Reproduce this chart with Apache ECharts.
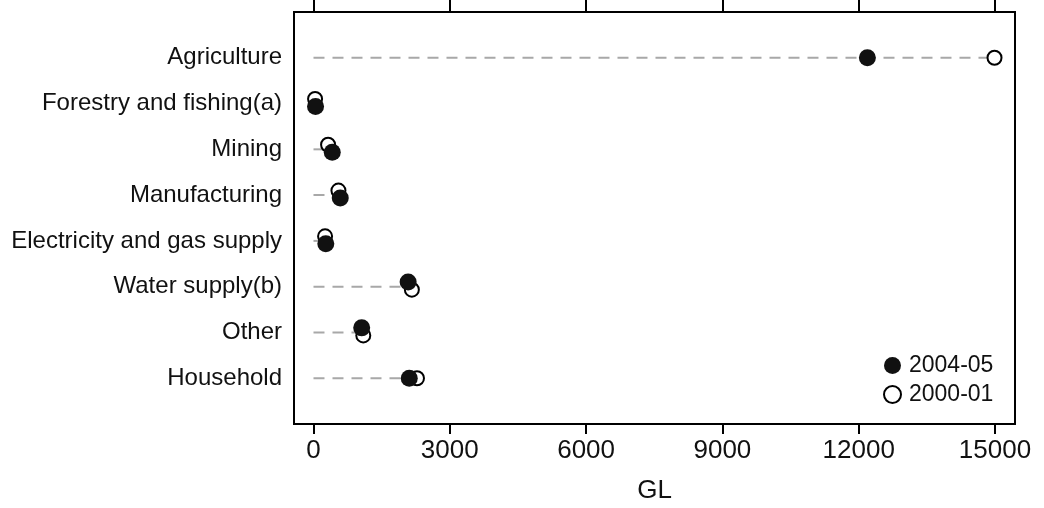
<!DOCTYPE html>
<html>
<head>
<meta charset="utf-8">
<script src="https://cdn.jsdelivr.net/npm/echarts@6/dist/echarts.min.js"></script>
<style>
html,body{margin:0;padding:0;background:#fff;}
#c{width:1044px;height:508px;}
</style>
</head>
<body>
<div id="c"></div>
<script>
var categories = ['Agriculture','Forestry and fishing(a)','Mining','Manufacturing','Electricity and gas supply','Water supply(b)','Other','Household'];
var values2004 = [12191, 45, 413, 589, 271, 2083, 1061, 2108];
var values2000 = [14989, 35, 321, 549, 255, 2165, 1096, 2278];
var xTicks = [0, 3000, 6000, 9000, 12000, 15000];

var FONT = '"Liberation Sans", Arial, sans-serif';
var chart = echarts.init(document.getElementById('c'), null, {renderer:'canvas'});

// small vertical nudge (in row units) when two dots overlap: larger value sits lower
function nudge(a, b){
  var d = Math.abs(a - b);
  if (d >= 150 || d < 1) return 0;
  return a > b ? 0.065 : -0.1;
}

var d2004 = values2004.map(function(v,i){ return [v, i + nudge(v, values2000[i])]; });
var d2000 = values2000.map(function(v,i){ return [v, i + nudge(v, values2004[i])]; });
var dLines = categories.map(function(c,i){
  return [Math.max(values2004[i], values2000[i]), i];
});

var option = {
  backgroundColor:'#fff',
  animation:false,
  grid:{left:294, right:29, top:12, bottom:84, outerBoundsMode:'none', containLabel:false,
    show:true, borderColor:'#000', borderWidth:2, backgroundColor:'#fff'},
  xAxis:[{
    type:'value', position:'bottom', min:-429, max:15440,
    axisLine:{show:false, onZero:false},
    splitLine:{show:false},
    axisTick:{show:true, customValues:xTicks, length:10, inside:false, lineStyle:{color:'#000', width:2}},
    axisLabel:{show:true, customValues:xTicks, margin:14, fontSize:26, color:'#111', fontFamily:FONT,
      formatter:function(v){ return String(v); }},
    name:'GL', nameLocation:'middle', nameGap:54,
    nameTextStyle:{fontSize:26, color:'#111', fontFamily:FONT}
  },{
    type:'value', position:'top', min:-429, max:15440,
    axisLine:{show:false, onZero:false},
    splitLine:{show:false},
    axisTick:{show:true, customValues:xTicks, length:12, inside:false, lineStyle:{color:'#000', width:2}},
    axisLabel:{show:false}
  }],
  yAxis:{
    type:'value', inverse:true, min:-1, max:8,
    axisLine:{show:false, onZero:false}, axisTick:{show:false}, splitLine:{show:false},
    axisLabel:{
      customValues:[0,1,2,3,4,5,6,7], margin:12, fontSize:24, color:'#111', fontFamily:FONT,
      formatter:function(v){ return categories[Math.round(v)] || ''; }
    }
  },
  legend:{
    data:['2004-05','2000-01'],
    orient:'vertical', left:878, top:349,
    itemWidth:17, itemHeight:17, itemGap:6,
    icon:'circle',
    textStyle:{fontSize:23, color:'#111', fontFamily:FONT, padding:[0,0,0,3]}
  },
  series:[{
    type:'custom', silent:true, z:1,
    renderItem:function(params, api){
      var i = api.value(1), v = api.value(0);
      var p0 = api.coord([0,i]), p1 = api.coord([v,i]);
      return {type:'line', shape:{x1:p0[0], y1:p0[1], x2:p1[0], y2:p1[1]},
        style:{stroke:'#a8a8a8', lineWidth:2, lineDash:[11,8]}};
    },
    data:dLines
  },{
    name:'2000-01', type:'scatter', z:3,
    symbol:'circle', symbolSize:14,
    itemStyle:{color:'#fff', borderColor:'#000', borderWidth:2, opacity:1},
    data:d2000
  },{
    name:'2004-05', type:'scatter', z:4,
    symbol:'circle', symbolSize:17,
    itemStyle:{color:'#111', borderColor:'#111', borderWidth:0, opacity:1},
    data:d2004
  }]
};
chart.setOption(option);
</script>
</body>
</html>
